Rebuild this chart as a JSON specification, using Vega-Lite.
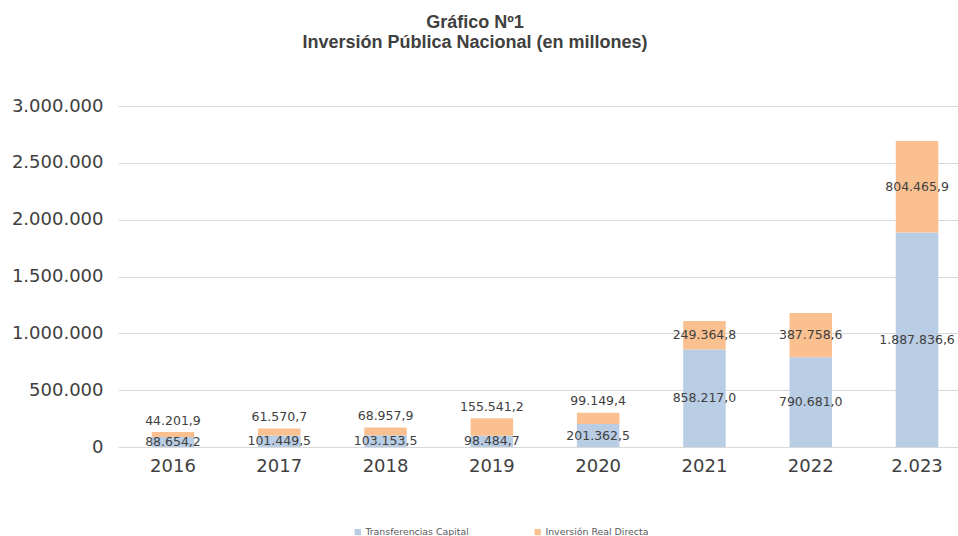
{
  "$schema": "https://vega.github.io/schema/vega-lite/v6.json",
  "width": 854,
  "height": 341,
  "autosize": {"type": "none"},
  "padding": {"left": 118, "top": 106, "right": 0, "bottom": 89},
  "background": "white",
  "config": {
    "locale": {"number": {"decimal": ",", "thousands": ".", "grouping": [3], "currency": ["$", ""]}},
    "view": {"stroke": null},
    "font": "DejaVu Sans"
  },
  "title": {
    "text": ["Gráfico Nº1", "Inversión Pública Nacional (en millones)"],
    "font": "Liberation Sans",
    "fontSize": 18,
    "fontWeight": "bold",
    "color": "#404040",
    "lineHeight": 20,
    "anchor": "middle",
    "dx": -70,
    "offset": 45
  },
  "data": {
    "values": [
      {"anio": "2016", "serie": "Transferencias Capital", "valor": 88654.2},
      {"anio": "2016", "serie": "Inversión Real Directa", "valor": 44201.9},
      {"anio": "2017", "serie": "Transferencias Capital", "valor": 101449.5},
      {"anio": "2017", "serie": "Inversión Real Directa", "valor": 61570.7},
      {"anio": "2018", "serie": "Transferencias Capital", "valor": 103153.5},
      {"anio": "2018", "serie": "Inversión Real Directa", "valor": 68957.9},
      {"anio": "2019", "serie": "Transferencias Capital", "valor": 98484.7},
      {"anio": "2019", "serie": "Inversión Real Directa", "valor": 155541.2},
      {"anio": "2020", "serie": "Transferencias Capital", "valor": 201362.5},
      {"anio": "2020", "serie": "Inversión Real Directa", "valor": 99149.4},
      {"anio": "2021", "serie": "Transferencias Capital", "valor": 858217.0},
      {"anio": "2021", "serie": "Inversión Real Directa", "valor": 249364.8},
      {"anio": "2022", "serie": "Transferencias Capital", "valor": 790681.0},
      {"anio": "2022", "serie": "Inversión Real Directa", "valor": 387758.6},
      {"anio": "2.023", "serie": "Transferencias Capital", "valor": 1887836.6},
      {"anio": "2.023", "serie": "Inversión Real Directa", "valor": 804465.9}
    ]
  },
  "transform": [
    {"calculate": "datum.serie == 'Transferencias Capital' ? 0 : 1", "as": "orden"},
    {"stack": "valor", "groupby": ["anio"], "sort": [{"field": "orden", "order": "ascending"}], "as": ["y0", "y1"]},
    {"calculate": "datum.orden == 1 && datum.valor < 160000 ? datum.y1 + 100000 : (datum.y0 + datum.y1) / 2", "as": "ylab"}
  ],
  "encoding": {
    "x": {
      "field": "anio",
      "type": "nominal",
      "sort": null,
      "title": null,
      "scale": {"paddingInner": 0.6, "paddingOuter": 0.317},
      "axis": {
        "domain": false,
        "ticks": false,
        "labelAngle": 0,
        "labelFont": "DejaVu Sans",
        "labelFontSize": 18,
        "labelColor": "#404040",
        "labelPadding": 10
      }
    }
  },
  "layer": [
    {
      "mark": {"type": "bar"},
      "encoding": {
        "y": {
          "field": "y1",
          "type": "quantitative",
          "title": null,
          "scale": {"domain": [0, 3000000], "nice": false},
          "axis": {
            "values": [0, 500000, 1000000, 1500000, 2000000, 2500000, 3000000],
            "format": ",d",
            "domain": false,
            "ticks": false,
            "labelFont": "DejaVu Sans",
            "labelFontSize": 18,
            "labelColor": "#404040",
            "labelPadding": 15,
            "gridColor": "#d9d9d9",
            "gridWidth": 1
          }
        },
        "y2": {"field": "y0"},
        "color": {
          "field": "serie",
          "type": "nominal",
          "scale": {
            "domain": ["Transferencias Capital", "Inversión Real Directa"],
            "range": ["#b9cde5", "#fac090"]
          },
          "legend": {
            "title": null,
            "orient": "none",
            "direction": "horizontal",
            "legendX": 235,
            "legendY": 421,
            "symbolType": "square",
            "symbolSize": 40,
            "symbolStrokeWidth": 0,
            "labelFont": "DejaVu Sans",
            "labelFontSize": 9.4,
            "labelColor": "#595959",
            "columnPadding": 64,
            "labelOffset": 3
          }
        }
      }
    },
    {
      "mark": {"type": "text", "fontSize": 12.5, "color": "#404040", "font": "DejaVu Sans", "baseline": "middle"},
      "encoding": {
        "y": {"field": "ylab", "type": "quantitative"},
        "text": {"field": "valor", "type": "quantitative", "format": ",.1f"}
      }
    }
  ]
}
